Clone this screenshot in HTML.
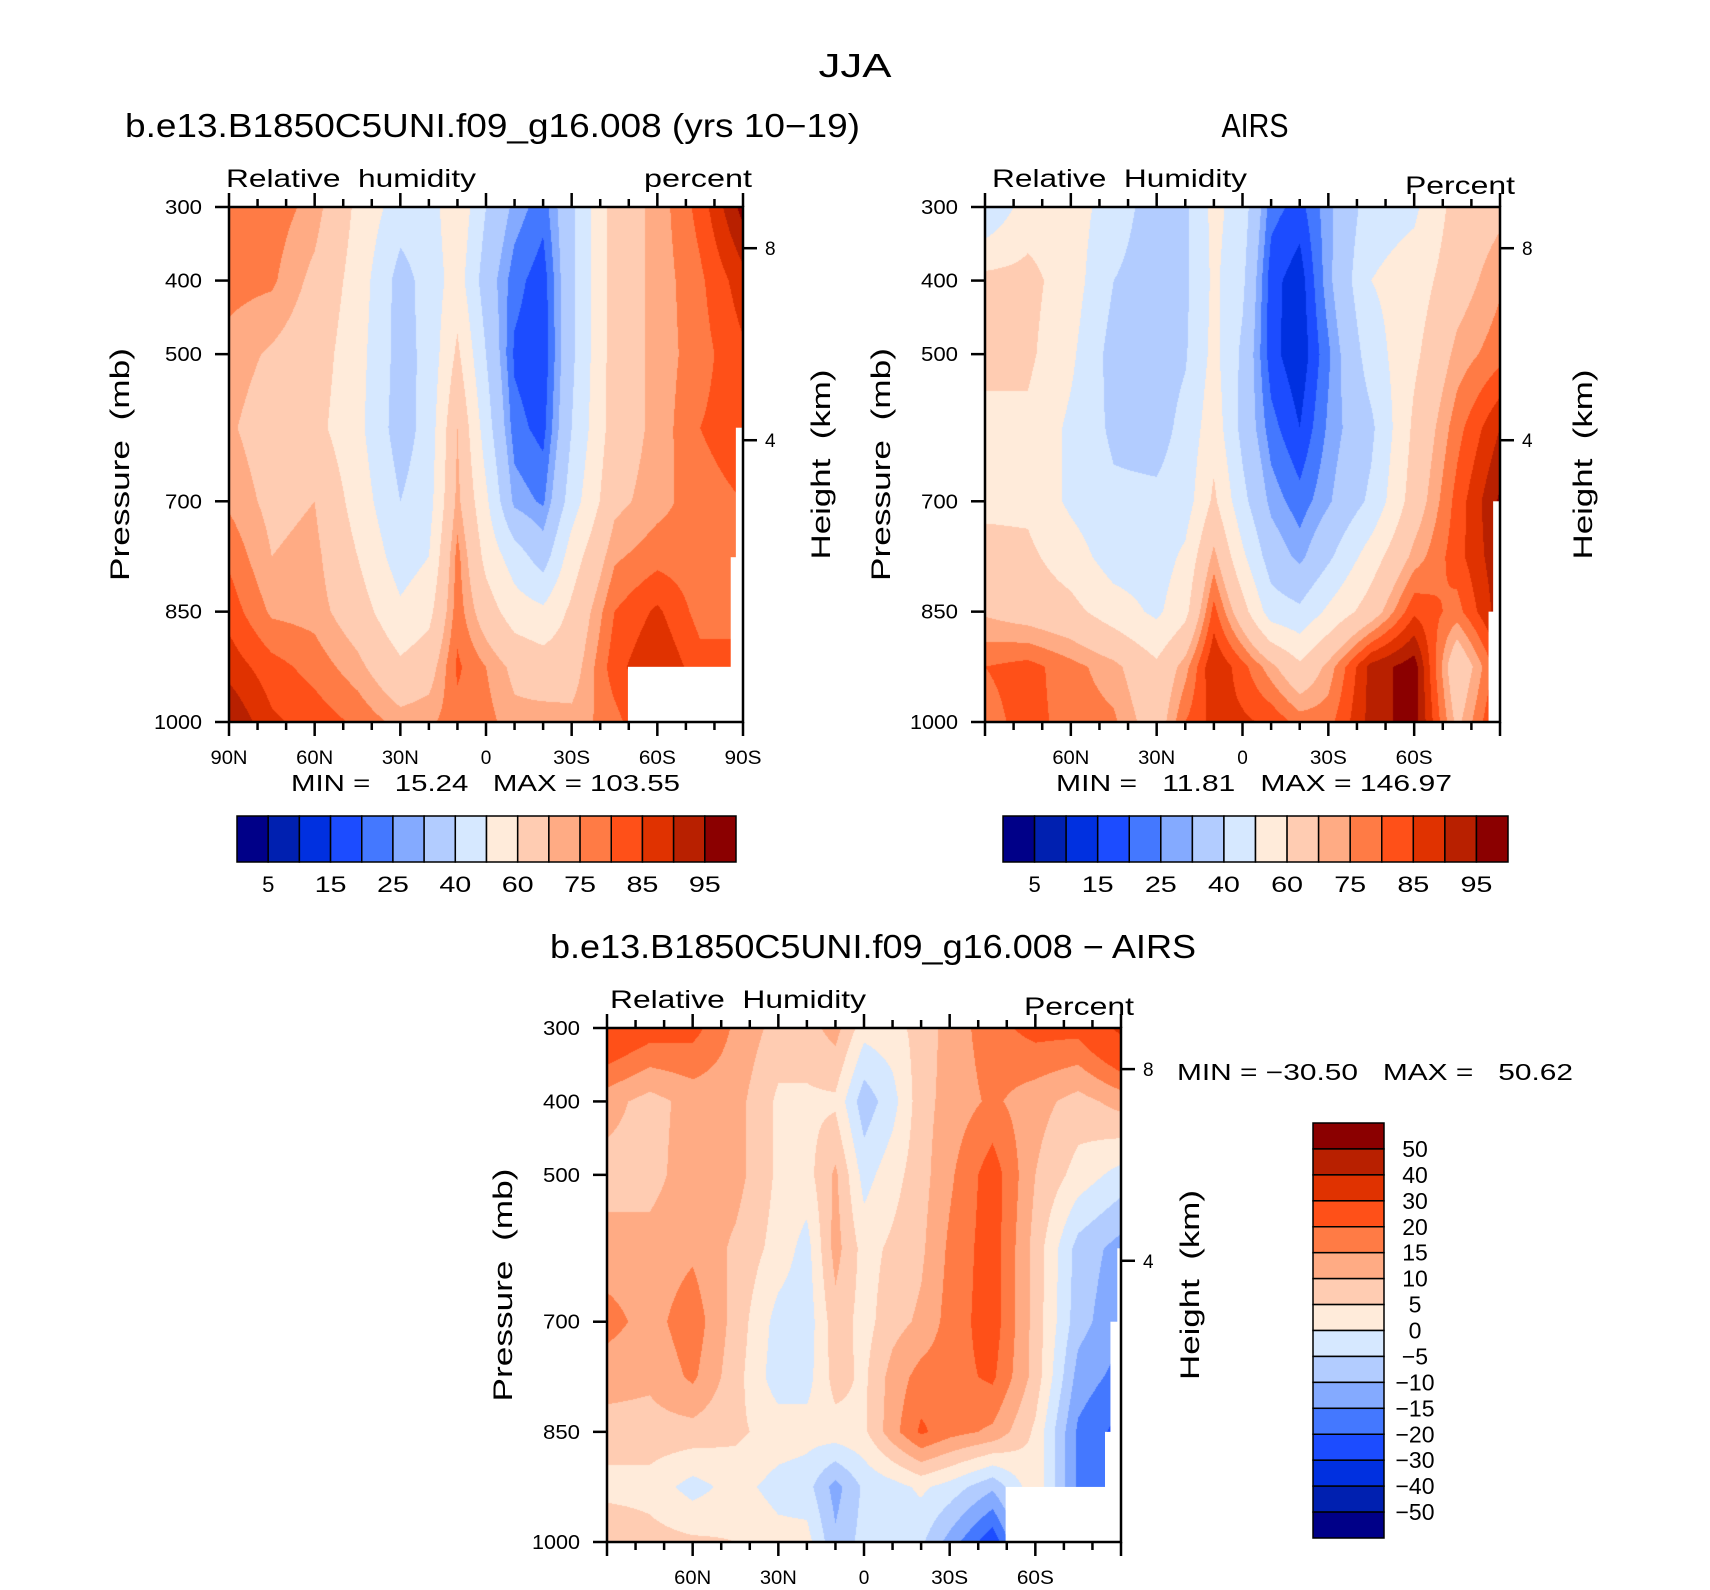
<!DOCTYPE html>
<html><head><meta charset="utf-8">
<style>
html,body{margin:0;padding:0;background:#fff;}
#wrap{position:relative;width:1710px;height:1590px;overflow:hidden;background:#fff;}
canvas{position:absolute;}
svg{position:absolute;left:0;top:0;}
text{font-family:"Liberation Sans",sans-serif;fill:#000;white-space:pre;}
</style></head>
<body>
<div id="wrap">
<canvas id="c1" width="514" height="515" style="left:229px;top:207px"></canvas>
<canvas id="c2" width="515" height="515" style="left:985px;top:207px"></canvas>
<canvas id="c3" width="514" height="514" style="left:607px;top:1028px"></canvas>
<svg id="s" width="1710" height="1590"></svg>
</div>
<script>
const lats = [90,75,60,45,30,20,10,0,-10,-20,-30,-45,-60,-75,-90];
const pressures = [300,400,500,600,700,775,850,925,1000];
// rows = latitude columns, entries = pressure levels
const modelRH = [
[79,77,73,71,74,79,83,88,95],
[78,76,69,66,68,70,74,82,86],
[73,68,65,63,70,72,73,78,83],
[58,56,54,53,56,60,65,72,79],
[45,36,36,35,40,45,52,62,73],
[45,44,43,44,46,50,57,66,74],
[58,55,62,70,72,77,78,81,78],
[40,35,40,45,52,57,65,75,77],
[28,22,19,22,28,45,55,68,72],
[22,17,16,18,24,35,52,65,73],
[38,38,38,40,45,55,62,66,72],
[65,65,65,65,68,74,80,83,78],
[72,72,72,72,73,78,86,90,88],
[82,79,78,80,78,77,78,82,82],
[97,88,84,83,80,80,80,80,80]];
const airsRH = [
[40,63,63,57,58,63,69,80,78],
[55,63,62,58,58,62,66,82,82],
[55,55,52,48,48,55,63,77,78],
[45,40,36,38,42,45,55,72,76],
[35,35,35,36,42,45,48,62,65],
[38,38,39,43,45,52,57,73,80],
[53,52,53,56,62,72,82,90,87],
[45,42,38,37,43,52,64,82,86],
[22,17,17,22,28,35,45,72,84],
[18,12,11,15,22,28,42,62,78],
[28,28,24,26,29,38,52,72,78],
[45,50,45,38,42,55,65,92,92],
[48,55,58,62,65,72,84,98,98],
[64,66,72,78,82,83,78,62,68],
[68,74,78,90,96,94,93,84,88]];
const diffRH = [
[28,12,8,12,17,12,8,3,10],
[23,8,8,12,13,11,8,3,7],
[22,12,13,14,18,16,8,-2,6],
[14,12,12,9,8,7,6,2,5],
[8,4,4,3,-2,-3,3,-2,2],
[8,4,3,-2,-3,-2,2,-3,2],
[12,4,11,12,8,7,3,-12,-9],
[2,-8,-2,3,3,4,4,-4,-3],
[3,-2,3,6,8,12,13,-2,-3],
[7,8,8,9,11,17,21,1,-4],
[12,12,14,16,17,18,17,-2,-12],
[18,16,23,23,23,21,14,-9,-24],
[22,12,10,8,8,8,4,4,0],
[22,8,3,-7,-8,-12,-16,-16,-16],
[32,12,-2,-12,-14,-17,-22,-22,-22]];
const rhLevels = [5,10,15,20,25,30,40,50,60,70,75,80,85,90,95];
const rhLabels = ["5","15","25","40","60","75","85","95"];
const diffLevels = [-50,-40,-30,-20,-15,-10,-5,0,5,10,15,20,30,40,50];
const diffLabels = ["50","40","30","20","15","10","5","0","\u22125","\u221210","\u221215","\u221220","\u221230","\u221240","\u221250"];
const palette = ["#000088","#0020b0","#0030e0","#1c4cff","#4478ff","#84aaff","#b2ccff","#d6e8ff","#ffebda","#ffccb2","#ffab84","#ff7b45","#ff5018","#e03200","#b82000","#8b0000"];
// missing-data masks: [latStart (to 90S), pressureStart (to 1000)]
const model1Mask = [[-49.7,925],[-87.5,600],[-85.7,776]];
const airsMask = [[-87.6,700],[-86,850]];
const diffMask = [[-49.6,925],[-88.7,600],[-86.3,700],[-84.4,850]];
const pressureTicks = [300,400,500,700,850,1000];
const heightTicks = [{km:8,p:356},{km:4,p:617}];

const NS="http://www.w3.org/2000/svg";
const svg=document.getElementById('s');
function mk(tag,attrs,parent){const e=document.createElementNS(NS,tag);for(const k in attrs)e.setAttribute(k,attrs[k]);(parent||svg).appendChild(e);return e;}
function txt(str,x,y,size,anchor,len,name,rot){
  const t=mk('text',{x:x,y:y,'font-size':size,'text-anchor':anchor||'start'});
  
  
  if(len){t.setAttribute('textLength',len);t.setAttribute('lengthAdjust','spacingAndGlyphs');}
  if(rot)t.setAttribute('transform','rotate(-90 '+x+' '+y+')');
  t.textContent=str;return t;
}
function hex(c){return [parseInt(c.substr(1,2),16),parseInt(c.substr(3,2),16),parseInt(c.substr(5,2),16)];}
const pal=palette.map(hex);
function levelIndex(v,levels){let k=0;while(k<levels.length&&v>=levels[k])k++;return k;}
function seg(arr,v,desc){for(let i=0;i<arr.length-1;i++){const a=arr[i],b=arr[i+1];if(desc?(v<=a&&v>=b):(v>=a&&v<=b))return [i,(v-a)/(b-a)];}return [arr.length-2,1];}
function drawField(id,grid,levels,w,h){
  const cv=document.getElementById(id),ctx=cv.getContext('2d');
  const img=ctx.createImageData(w,h);
  for(let py=0;py<h;py++){
    const p=300+(py+0.5)/h*700;const [j,fy]=seg(pressures,p,false);
    for(let px=0;px<w;px++){
      const lat=90-(px+0.5)/w*180;const [i,fx]=seg(lats,lat,true);
      const v=(grid[i][j]*(1-fx)+grid[i+1][j]*fx)*(1-fy)+(grid[i][j+1]*(1-fx)+grid[i+1][j+1]*fx)*fy;
      const c=pal[levelIndex(v,levels)];const o=(py*w+px)*4;
      img.data[o]=c[0];img.data[o+1]=c[1];img.data[o+2]=c[2];img.data[o+3]=255;
    }
  }
  ctx.putImageData(img,0,0);
}
function panel(o){
  const {x,y,w,h}=o;
  const X=lat=>x+(90-lat)/180*w, Y=p=>y+(p-300)/700*h;
  for(const m of o.mask){
    const r=mk('rect',{x:X(m[0]),y:Y(m[1]),width:x+w-X(m[0]),height:y+h-Y(m[1]),fill:'#fff'});
    
    
  }
  const g=mk('g',{stroke:'#000','stroke-width':2.5,fill:'none'});
  
  
  mk('rect',{x:x,y:y,width:w,height:h},g);
  for(let lat=90;lat>=-90;lat-=10){
    const major=lat%30===0, L=major?14:8, xx=X(lat);
    mk('line',{x1:xx,y1:y+h,x2:xx,y2:y+h+L},g);
    mk('line',{x1:xx,y1:y,x2:xx,y2:y-L},g);
  }
  for(const p of pressureTicks){
    mk('line',{x1:x-14,y1:Y(p),x2:x,y2:Y(p)},g);
    txt(String(p),x-27,Y(p)+7,20,'end',p===1000?48:37,o.pre+'-pressure-tick-label');
  }
  for(const ht of heightTicks){
    mk('line',{x1:x+w,y1:Y(ht.p),x2:x+w+14,y2:Y(ht.p)},g);
    txt(String(ht.km),x+w+22,Y(ht.p)+7,19,'start',null,o.pre+'-height-tick-label');
  }
  const labs=o.latLabels;
  for(const l of labs){
    const s=l===0?'0':(l>0?l+'N':(-l)+'S');
    txt(s,X(l),y+h+42,19,'middle',s.length>1?37:null,o.pre+'-lat-tick-label');
  }
  txt('Pressure  (mb)',o.plx,y+h/2,27,'middle',233,o.pre+'-y-axis-title',true);
  txt('Height  (km)',o.hlx,y+h/2,27,'middle',190,o.pre+'-right-axis-title',true);
}
function hbar(x,y,w,h,levels,labels,pre){
  const bw=w/16;
  for(let i=0;i<16;i++){
    const r=mk('rect',{x:x+i*bw,y:y,width:bw,height:h,fill:palette[i],stroke:'#000','stroke-width':1.5});
    
    
  }
  labels.forEach((s,k)=>{const i=2*k+1;txt(s,x+i*bw,y+h+30,22,'middle',s.length>1?32:null,pre+'-colorbar-label');});
}
function vbar(x,y,w,h,levels,labels,pre){
  const bh=h/16;
  for(let i=0;i<16;i++){
    const r=mk('rect',{x:x,y:y+i*bh,width:w,height:bh,fill:palette[15-i],stroke:'#000','stroke-width':1.5});
    
    
  }
  labels.forEach((s,k)=>{txt(s,1415,y+(k+1)*bh+8,23,'middle',null,pre+'-colorbar-label');});
}
drawField('c1',modelRH,rhLevels,514,515);
drawField('c2',airsRH,rhLevels,515,515);
drawField('c3',diffRH,diffLevels,514,514);

txt('JJA',855,77,33,'middle',73,'figure-title');
// panel 1
txt('b.e13.B1850C5UNI.f09_g16.008 (yrs 10\u221219)',125,137,33,'start',735,'model-panel-title');
txt('Relative  humidity',226,187,25,'start',250,'model-variable-label');
txt('percent',752,187,25,'end',108,'model-units-label');
panel({x:229,y:207,w:514,h:515,pre:'model',mask:model1Mask,latLabels:[90,60,30,0,-30,-60,-90],plx:129,hlx:830});
txt('MIN =   15.24   MAX = 103.55',291,791,23,'start',389,'model-min-max');
hbar(237,816,499,46,rhLevels,rhLabels,'model');
// panel 2
txt('AIRS',1255,137,33,'middle',67,'airs-panel-title');
txt('Relative  Humidity',992,187,25,'start',255,'airs-variable-label');
txt('Percent',1515,194,25,'end',110,'airs-units-label');
panel({x:985,y:207,w:515,h:515,pre:'airs',mask:airsMask,latLabels:[60,30,0,-30,-60],plx:890,hlx:1592});
txt('MIN =   11.81   MAX = 146.97',1056,791,23,'start',396,'airs-min-max');
hbar(1003,816,505,46,rhLevels,rhLabels,'airs');
// panel 3
txt('b.e13.B1850C5UNI.f09_g16.008 \u2212 AIRS',550,958,33,'start',646,'difference-panel-title');
txt('Relative  Humidity',610,1008,25,'start',256,'difference-variable-label');
txt('Percent',1134,1015,25,'end',110,'difference-units-label');
panel({x:607,y:1028,w:514,h:514,pre:'difference',mask:diffMask,latLabels:[60,30,0,-30,-60],plx:512,hlx:1199});
txt('MIN = \u221230.50   MAX =   50.62',1177,1080,23,'start',396,'difference-min-max');
vbar(1313,1123,71,415,diffLevels,diffLabels,'difference');
</script>
</body></html>
